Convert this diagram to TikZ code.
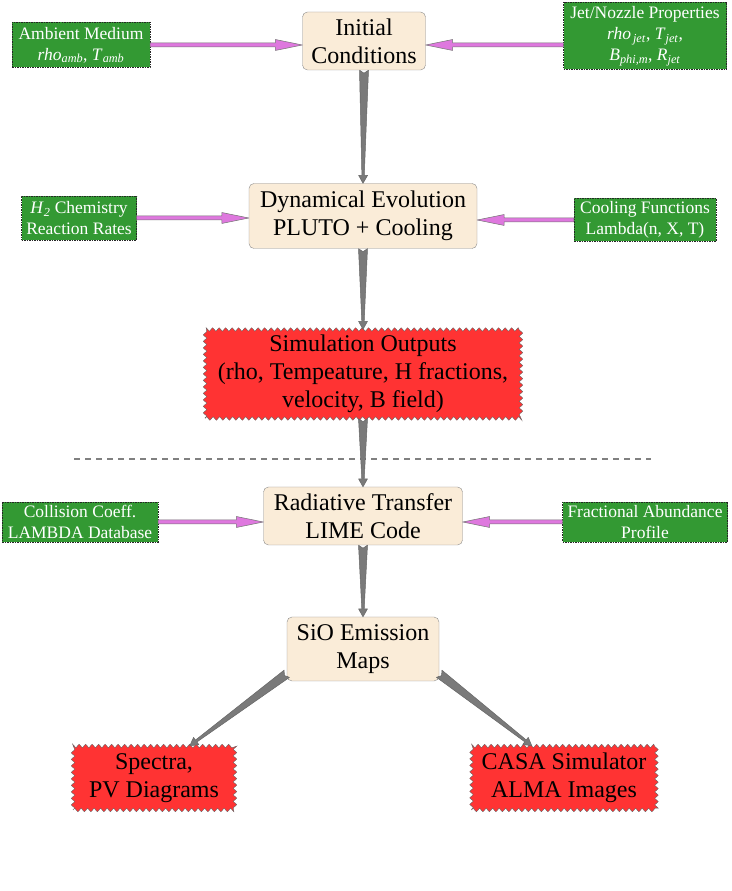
\documentclass[tikz,border=0pt]{standalone}
\usepackage{fontspec}
\setmainfont{LiberationSerif}[Extension=.ttf, UprightFont=*-Regular, ItalicFont=*-Italic,
  BoldFont=*-Bold, BoldItalicFont=*-BoldItalic]
\usetikzlibrary{calc,decorations.pathmorphing}
\definecolor{boxtan}{RGB}{250,236,216}
\definecolor{boxgreen}{RGB}{51,153,51}
\definecolor{boxred}{RGB}{255,51,51}
\definecolor{feedpink}{RGB}{222,120,222}
\definecolor{flowgray}{RGB}{122,122,122}
\newcommand\qsub[2]{\textit{#1}\textsubscript{\textit{#2}}}
% tapered gray arrow between two points
\newcommand\flowarrow[2]{%
  \coordinate (fa-s) at (#1);
  \coordinate (fa-e) at (#2);
  \coordinate (fa-h) at ($(fa-e)!8pt!(fa-s)$);
  \filldraw[fill=flowgray, draw=black!60, line width=0.5pt, line join=round]
    ($(fa-s)!4.5pt!90:(fa-e)$) -- ($(fa-s)!3pt!(fa-e)$) -- ($(fa-s)!4.5pt!-90:(fa-e)$)
    -- ($(fa-h)!1.2pt!90:(fa-s)$) -- ($(fa-h)!4.5pt!90:(fa-s)$) -- (fa-e)
    -- ($(fa-h)!4.5pt!-90:(fa-s)$) -- ($(fa-h)!1.2pt!-90:(fa-s)$) -- cycle;}
% pink input arrow
\newcommand\feedarrow[2]{%
  \coordinate (pa-s) at (#1);
  \coordinate (pa-e) at (#2);
  \coordinate (pa-h) at ($(pa-e)!27pt!(pa-s)$);
  \filldraw[fill=feedpink, draw=black!55, line width=0.5pt, line join=round]
    ($(pa-s)!2pt!90:(pa-e)$) -- ($(pa-s)!2pt!-90:(pa-e)$)
    -- ($(pa-h)!2pt!90:(pa-s)$) -- ($(pa-h)!5.5pt!90:(pa-s)$) -- (pa-e)
    -- ($(pa-h)!5.5pt!-90:(pa-s)$) -- ($(pa-h)!2pt!-90:(pa-s)$) -- cycle;}
\tikzset{
  procbox/.style={draw=black!45, fill=boxtan, rounded corners=5pt, align=center,
    inner sep=2pt, font=\fontsize{24}{28}\selectfont},
  inbox/.style={draw=black!85, dash pattern=on 1.5pt off 1pt, fill=boxgreen, text=white,
    align=center, inner sep=2pt, font=\fontsize{17.5}{21}\selectfont},
  outbox/.style={draw=black!60, fill=boxred, align=center, inner sep=2pt,
    decorate, decoration={zigzag, segment length=6.5pt, amplitude=1.8pt},
    font=\fontsize{24}{28}\selectfont},
  sepline/.style={draw=gray, line width=1.8pt, dash pattern=on 6pt off 5pt}
}
\begin{document}
\begin{tikzpicture}[x=1pt,y=1pt]
\useasboundingbox (0,0) rectangle (731,891);
% upper part: simulation
\node[procbox, minimum width=123, minimum height=58] (init) at (364,850) {Initial\\Conditions};
\node[inbox, minimum width=138, minimum height=45] (amb) at (81,846)
  {Ambient Medium\\\qsub{rho}{amb}, \qsub{T}{amb}};
\node[inbox, minimum width=163, minimum height=67] (jet) at (645,855)
  {Jet/Nozzle Properties\\\qsub{rho}{\,jet}, \qsub{T}{jet},\\\qsub{B}{phi,m}, \qsub{R}{jet}};
\node[procbox, minimum width=228, minimum height=65] (dyn) at (363,675)
  {Dynamical Evolution\\PLUTO + Cooling};
\node[inbox, minimum width=115, minimum height=44] (chem) at (79,673)
  {\qsub{H}{2} Chemistry\\Reaction Rates};
\node[inbox, minimum width=142, minimum height=43] (cool) at (645,671)
  {Cooling Functions\\Lambda(n, X, T)};
\node[outbox, minimum width=316, minimum height=89] (simout) at (363,517)
  {Simulation Outputs\\(rho, Tempeature, H fractions,\\velocity, B field)};
% lower part: synthetic observations
\draw[sepline] (74,432) -- (651,432);
\node[procbox, minimum width=199, minimum height=58] (rad) at (363,375)
  {Radiative Transfer\\LIME Code};
\node[inbox, minimum width=156, minimum height=40] (coll) at (80,369)
  {Collision Coeff.\\LAMBDA Database};
\node[inbox, minimum width=165, minimum height=40] (frac) at (645,369)
  {Fractional Abundance\\Profile};
\node[procbox, minimum width=152, minimum height=64] (sio) at (363,242)
  {SiO Emission\\Maps};
\node[outbox, minimum width=162, minimum height=64] (spectra) at (154,113)
  {Spectra,\\PV Diagrams};
\node[outbox, minimum width=185, minimum height=64] (casa) at (564,113)
  {CASA Simulator\\ALMA Images};
% connectors
\feedarrow{amb.east}{init.west |- amb.east}
\feedarrow{jet.west |- amb.east}{init.east |- amb.east}
\feedarrow{chem.east}{dyn.west |- chem.east}
\feedarrow{cool.west}{dyn.east |- cool.west}
\feedarrow{coll.east}{rad.west |- coll.east}
\feedarrow{frac.west}{rad.east |- frac.west}
\flowarrow{init.south}{dyn.north}
\flowarrow{dyn.south}{simout.north}
\flowarrow{simout.south}{rad.north}
\flowarrow{rad.south}{sio.north}
\flowarrow{sio.198}{spectra.42}
\flowarrow{sio.342}{casa.135}
\end{tikzpicture}
\end{document}
